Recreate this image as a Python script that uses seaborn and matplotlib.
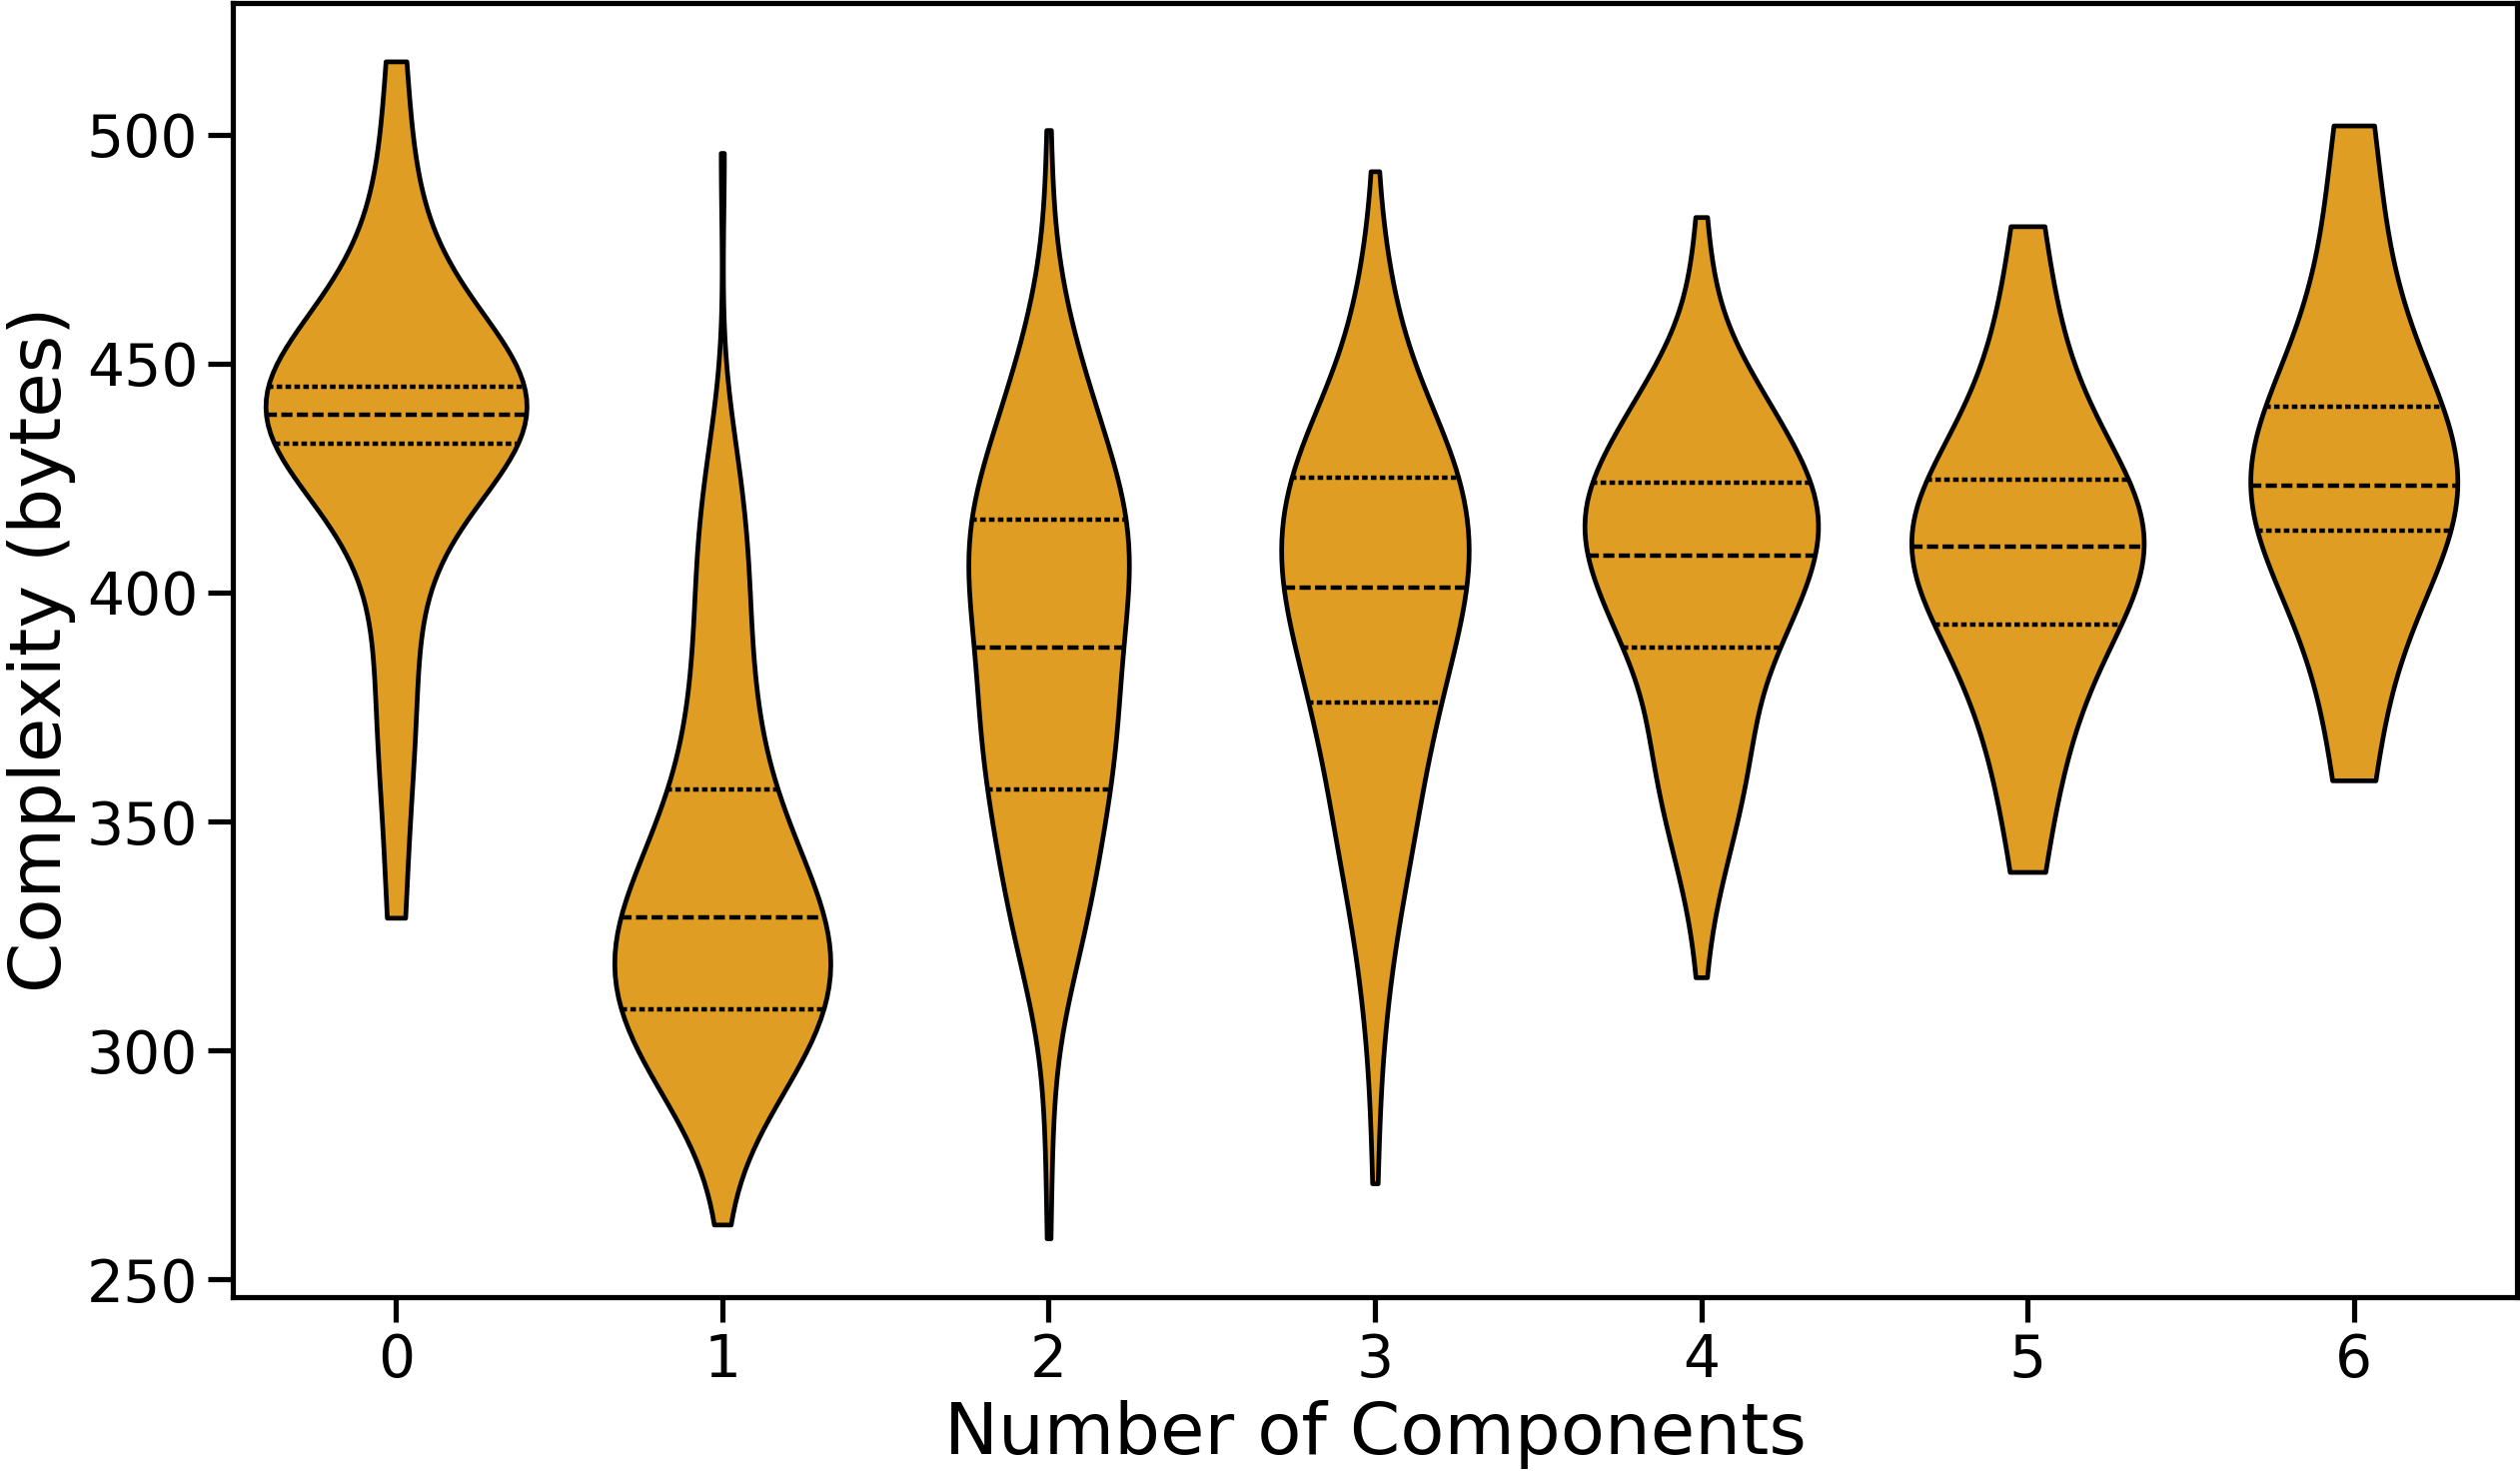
import numpy as np
import pandas as pd
import matplotlib
matplotlib.use("Agg")
import matplotlib.pyplot as plt
import seaborn as sns

# ── data ──────────────────────────────────────────────────────────
# groups with few observations: raw values
complexity_0 = [329, 358, 372, 386, 402, 415, 424, 431.6, 435, 436, 436.8,
                437.5, 438, 438.3, 438.5, 439, 440, 441, 442, 443, 444, 444.5,
                445.2, 449, 454, 460, 467, 477, 491, 516]
complexity_5 = [339, 357, 368, 376, 383, 390, 394, 398, 402, 405, 407.5, 409,
                411, 413, 416, 419, 421, 423.5, 428, 434, 441, 450, 461, 480]
complexity_6 = [359, 385, 400, 412, 418, 420, 422.5, 424, 431, 439.5, 440.8,
                458, 476, 502]

# larger groups: value / frequency tables
values_1 = [262, 270, 280, 290, 299, 309, 319, 329, 340, 350, 357, 364, 372,
            380, 390, 400, 410, 420, 430, 440, 496]
counts_1 = [1, 1, 3, 10, 16, 20, 23, 21, 16, 11, 4, 6, 5, 5, 5, 5, 5, 4, 3, 1, 1]

values_2 = [259, 277, 287, 297, 307, 317, 327, 337, 347, 357, 367, 377, 388,
            398, 407, 416, 426, 436, 446, 456, 466, 476, 486, 501]
counts_2 = [1, 1, 1, 1, 3, 6, 10, 11, 13, 15, 17, 18, 18, 18, 19, 20, 17, 13,
            9, 6, 3, 1, 1, 1]

values_3 = [271, 286, 296, 306, 316, 326, 336, 346, 356, 366, 376, 388, 401,
            413, 425, 435, 445, 455, 465, 477, 492]
counts_3 = [1, 1, 1, 2, 3, 4, 6, 8, 9, 10, 14, 20, 24, 24, 20, 14, 8, 5, 4, 2, 1]

values_4 = [316, 326, 336, 346, 356, 366, 376, 388, 398, 408, 416, 424, 434,
            444, 454, 464, 474, 482]
counts_4 = [1, 1, 3, 5, 7, 8, 9, 13, 16, 17, 16, 17, 14, 10, 4, 2, 1, 1]

components = [0, 1, 2, 3, 4, 5, 6]

# ── build long-form table ─────────────────────────────────────────
groups = {
    0: np.array(complexity_0),
    1: np.repeat(values_1, counts_1),
    2: np.repeat(values_2, counts_2),
    3: np.repeat(values_3, counts_3),
    4: np.repeat(values_4, counts_4),
    5: np.array(complexity_5),
    6: np.array(complexity_6),
}
df = pd.DataFrame({
    "components": np.concatenate([[k] * len(v) for k, v in groups.items()]),
    "complexity": np.concatenate(list(groups.values())).astype(float),
})

# ── plot ──────────────────────────────────────────────────────────
sns.set_theme(style="ticks", context="talk")
plt.rcParams["font.family"] = ["DejaVu Sans"]
plt.rcParams.update({"text.color": "black", "axes.labelcolor": "black",
                     "xtick.color": "black", "ytick.color": "black",
                     "axes.edgecolor": "black"})

fig = plt.figure(figsize=(12.61, 7.385), dpi=200)
ax = fig.add_axes([0.0924, 0.1212, 0.9064, 0.8771])

sns.violinplot(data=df, x="components", y="complexity", order=components,
               color="#E09D23", saturation=1, inner="quart", cut=0,
               linewidth=1.7, linecolor="black", density_norm="area",
               inner_kws=dict(linewidth=1.6), ax=ax)

ax.set_xlabel("Number of Components", fontsize=26)
ax.set_ylabel("Complexity (bytes)", fontsize=26)
ax.tick_params(labelsize=21)

fig.savefig("out.png", dpi=200)
